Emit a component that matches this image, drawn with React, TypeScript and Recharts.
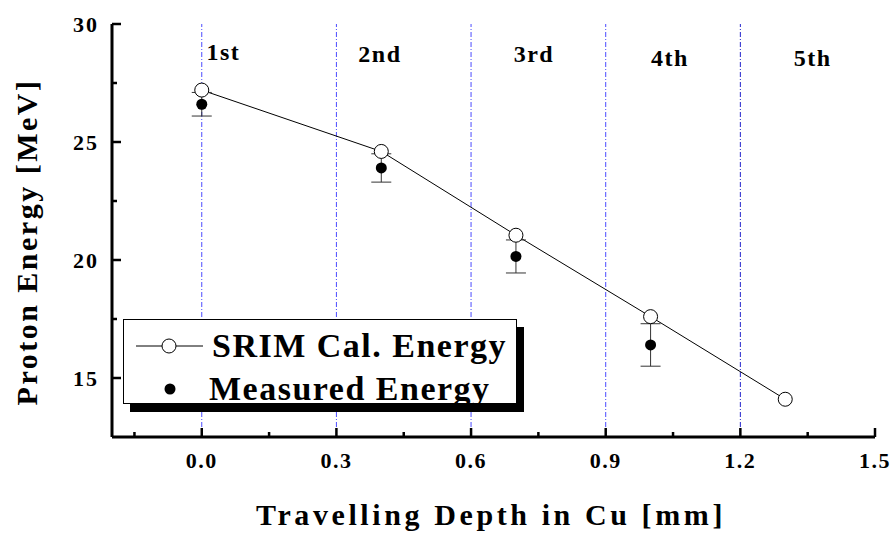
import React from 'react';
import {
  ComposedChart,
  Line,
  Scatter,
  ErrorBar,
  XAxis,
  YAxis,
  ReferenceLine,
  ReferenceDot,
  Legend,
} from 'recharts';

// SRIM calculated energy vs depth
const srimDepth = [0, 0.4, 0.7, 1.0, 1.3];
const srimEnergy = [27.2, 24.6, 21.05, 17.6, 14.1];

// measured energy with error
const measDepth = [0, 0.4, 0.7, 1.0];
const measEnergy = [26.6, 23.9, 20.15, 16.4];
const measErr = [0.5, 0.6, 0.7, 0.9];

// foil boundaries and stage labels
const foilLines = [0, 0.3, 0.6, 0.9, 1.2];
const stageNames = ['1st', '2nd', '3rd', '4th', '5th'];
const stageX = [0.048, 0.397, 0.74, 1.043, 1.361];
const stageY = [28.83, 28.73, 28.75, 28.6, 28.6];

const xMajor = [0, 0.3, 0.6, 0.9, 1.2, 1.5];
const xMinor = [-0.15, 0.15, 0.45, 0.75, 1.05, 1.35];
const yMajor = [15, 20, 25, 30];
const yMinor = [17.5, 22.5, 27.5];

const srimData = srimDepth.map((x, i) => ({ x, y: srimEnergy[i] }));
const measData = measDepth.map((x, i) => ({ x, y: measEnergy[i], err: measErr[i] }));

const FONT = '"Liberation Serif", "Times New Roman", serif';
const xTicks = [...xMinor, ...xMajor].sort((a, b) => a - b);
const yTicks = [...yMinor, ...yMajor].sort((a, b) => a - b);

const isMajor = (arr: number[], v: number) => arr.some((m) => Math.abs(m - v) < 1e-9);

const BottomTick = (props: any) => {
  const { x, y, payload } = props;
  const major = isMajor(xMajor, payload.value);
  return (
    <g>
      <line x1={x} x2={x} y1={y} y2={y - (major ? 9 : 5)} stroke="#000" strokeWidth={2.5} />
      {major && (
        <text x={x} y={y + 23} dy="0.35em" textAnchor="middle" fontFamily={FONT}
          fontWeight="bold" fontSize={22} letterSpacing={1.5} fill="#000">
          {payload.value.toFixed(1)}
        </text>
      )}
    </g>
  );
};

const TopTick = (props: any) => {
  const { x, y, payload } = props;
  const major = isMajor(xMajor, payload.value);
  return <line x1={x} x2={x} y1={y} y2={y + (major ? 9 : 5)} stroke="#000" strokeWidth={2.5} />;
};

const LeftTick = (props: any) => {
  const { x, y, payload } = props;
  const major = isMajor(yMajor, payload.value);
  return (
    <g>
      <line x1={x} x2={x + (major ? 9 : 5)} y1={y} y2={y} stroke="#000" strokeWidth={2.5} />
      {major && (
        <text x={x - 13} y={y} dy="0.35em" textAnchor="end" fontFamily={FONT}
          fontWeight="bold" fontSize={22} letterSpacing={2} fill="#000">
          {payload.value}
        </text>
      )}
    </g>
  );
};

const RightTick = (props: any) => {
  const { x, y, payload } = props;
  const major = isMajor(yMajor, payload.value);
  return <line x1={x} x2={x - (major ? 9 : 5)} y1={y} y2={y} stroke="#000" strokeWidth={2.5} />;
};

const LegendBox = () => (
  <div
    style={{
      position: 'relative',
      width: 394,
      height: 85,
      boxSizing: 'border-box',
      border: '1px solid #000',
      background: '#fff',
      boxShadow: '7px 8px 0 #000',
      fontFamily: FONT,
      fontWeight: 'bold',
      fontSize: 34,
      letterSpacing: 1.5,
      color: '#000',
    }}
  >
    <svg width={80} height={85} style={{ position: 'absolute', left: 0, top: 0 }}>
      <line x1={12} x2={79} y1={26} y2={26} stroke="#000" strokeWidth={1} />
      <circle cx={45} cy={26} r={7} fill="#fff" stroke="#000" strokeWidth={1} />
      <circle cx={46} cy={69} r={5.5} fill="#000" />
    </svg>
    <div style={{ position: 'absolute', left: 88, top: 26, transform: 'translateY(-50%)', whiteSpace: 'nowrap', lineHeight: 1 }}>
      SRIM Cal. Energy
    </div>
    <div style={{ position: 'absolute', left: 85, top: 69, transform: 'translateY(-50%)', whiteSpace: 'nowrap', lineHeight: 1 }}>
      Measured Energy
    </div>
  </div>
);

export default function App() {
  return (
    <div style={{ position: 'absolute', left: 0, top: 0, width: 891, height: 535, background: '#fff' }}>
      <ComposedChart
        width={891}
        height={535}
        data={srimData}
        margin={{ top: 24, right: 16, bottom: 0, left: 0 }}
      >
        <XAxis
          xAxisId={0}
          dataKey="x"
          type="number"
          domain={[-0.2, 1.5]}
          allowDataOverflow
          ticks={xTicks}
          interval={0}
          height={98}
          tickSize={0}
          tickMargin={0}
          tickLine={false}
          axisLine={{ stroke: '#000', strokeWidth: 3 }}
          tick={<BottomTick />}
          label={{
            content: () => (
              <text x={491} y={525} textAnchor="middle" fontFamily={FONT} fontWeight="bold"
                fontSize={30} letterSpacing={3.6} fill="#000">
                Travelling Depth in Cu [mm]
              </text>
            ),
          }}
        />
        <XAxis
          xAxisId="top"
          orientation="top"
          dataKey="x"
          type="number"
          domain={[-0.2, 1.5]}
          allowDataOverflow
          ticks={xTicks}
          interval={0}
          height={0}
          tickSize={0}
          tickMargin={0}
          tickLine={false}
          axisLine={{ stroke: '#000', strokeWidth: 3 }}
          tick={<TopTick />}
        />
        <YAxis
          yAxisId={0}
          type="number"
          domain={[12.5, 30]}
          allowDataOverflow
          ticks={yTicks}
          interval={0}
          width={112}
          tickSize={0}
          tickMargin={0}
          tickLine={false}
          axisLine={{ stroke: '#000', strokeWidth: 3 }}
          tick={<LeftTick />}
          label={{
            content: () => (
              <text transform="translate(37,242) rotate(-90)" textAnchor="middle" fontFamily={FONT}
                fontWeight="bold" fontSize={30} letterSpacing={2.5} fill="#000">
                Proton Energy [MeV]
              </text>
            ),
          }}
        />
        <YAxis
          yAxisId="right"
          orientation="right"
          type="number"
          domain={[12.5, 30]}
          allowDataOverflow
          ticks={yTicks}
          interval={0}
          width={0}
          tickSize={0}
          tickMargin={0}
          tickLine={false}
          axisLine={{ stroke: '#000', strokeWidth: 3 }}
          tick={<RightTick />}
        />

        {foilLines.map((v) => (
          <ReferenceLine
            key={v}
            x={v}
            stroke={v === 1.2 ? '#2222cc' : '#4b4bff'}
            strokeWidth={1}
            strokeDasharray="5 2 1 2"
          />
        ))}

        {stageNames.map((name, i) => (
          <ReferenceDot
            key={name}
            x={stageX[i]}
            y={stageY[i]}
            r={0}
            fill="none"
            stroke="none"
            label={{
              value: name,
              position: 'center',
              fontFamily: FONT,
              fontWeight: 'bold',
              fontSize: 24,
              letterSpacing: 1.5,
              fill: '#000',
            }}
          />
        ))}

        <Line
          dataKey="y"
          stroke="#000"
          strokeWidth={1}
          isAnimationActive={false}
          dot={{ r: 7, fill: '#fff', stroke: '#000', strokeWidth: 1 }}
          activeDot={false}
          legendType="none"
        />
        <Scatter
          data={measData}
          dataKey="y"
          fill="#000"
          isAnimationActive={false}
          shape={(p: any) => <circle cx={p.cx} cy={p.cy} r={5.5} fill="#000" />}
        >
          <ErrorBar dataKey="err" direction="y" width={10} stroke="#333" strokeWidth={1} isAnimationActive={false} />
        </Scatter>

        <Legend
          layout="horizontal"
          verticalAlign="middle"
          align="center"
          wrapperStyle={{ left: 123, top: 319, width: 'auto' }}
          content={() => <LegendBox />}
        />
      </ComposedChart>
    </div>
  );
}
